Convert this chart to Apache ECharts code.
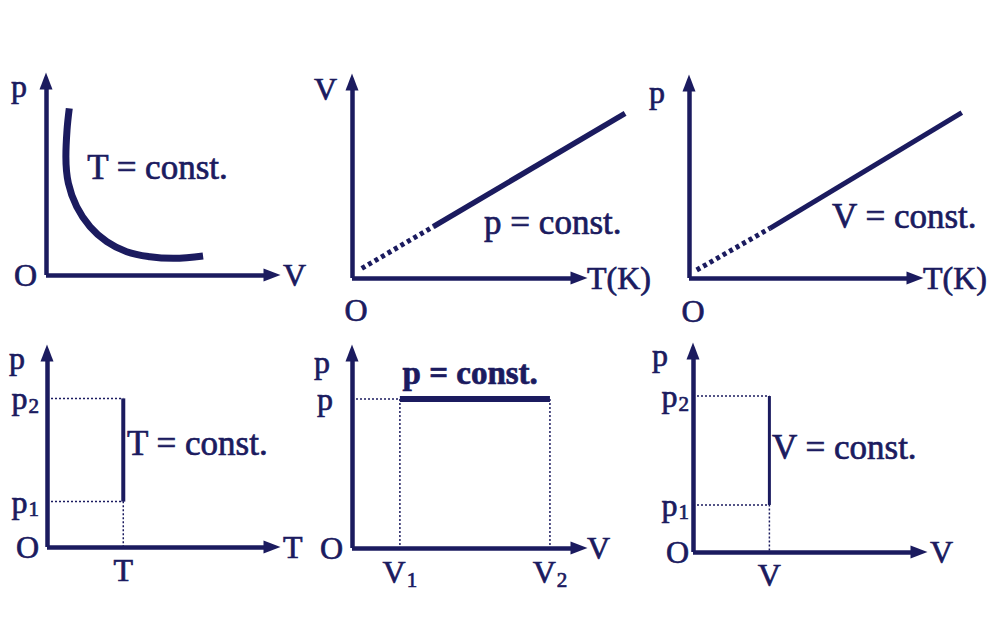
<!DOCTYPE html>
<html><head><meta charset="utf-8">
<script src="https://cdn.jsdelivr.net/npm/echarts@6/dist/echarts.min.js"></script>
<style>html,body{margin:0;padding:0;background:#fff}#c{width:1000px;height:619px}</style>
</head><body><div id="c"></div>
<script>
// ================= DATA (arbitrary units, 0..100 on every axis) =================
// Panel 1 – isothermal process, p–V diagram (hyperbola)
const isoV = [10.3, 9.3, 8.8, 9.9, 13.6, 19.5, 26.9, 35.7, 46.0, 56.3, 69.5];
const isoP = [85.9, 74.7, 61.0, 47.3, 35.2, 24.9, 17.2, 12.0, 9.4, 8.6, 9.8];
// Panel 2 – isobaric process, V–T diagram (dotted extrapolation + solid part)
const isobarDotT = [4.3, 35.8];
const isobarDotV = [4.9, 26.2];
const isobarT = [35.8, 120.3];
const isobarV = [26.2, 84.0];
// Panel 3 – isochoric process, p–T diagram
const isochorDotT = [3.4, 35.8];
const isochorDotP = [4.1, 25.5];
const isochorT = [35.8, 120.7];
const isochorP = [25.5, 84.8];
// Panel 4 – isothermal process, p–T diagram
const p4T = 33.9;
const p4P = [23.4, 76.6];          // p1, p2
// Panel 5 – isobaric process, p–V diagram
const p5P = 76.4;
const p5V = [21.1, 87.2];          // V1, V2
// Panel 6 – isochoric process, p–V diagram
const p6V = 33.8;
const p6P = [23.4, 77.6];          // p1, p2

// ================= TEXT =================
const xNames = ['V', 'T(K)', 'T(K)', 'T', 'V', 'V'];
const yNames = ['p', 'V', 'p', 'p', 'p', 'p'];
const curveLabels = ['T = const.', 'p = const.', 'V = const.', 'T = const.', 'p = const.', 'V = const.'];
const xTickValues = [[], [0], [0], [p4T], p5V, [p6V]];
const xTickLabels = [[], ['O'], ['O'], ['T'], ['V₁', 'V₂'], ['V']];
const yTickValues = [[0], [], [], [0, p4P[0], p4P[1]], [0, p5P], [0, p6P[0], p6P[1]]];
const yTickLabels = [['O'], [], [], ['O', 'p₁', 'p₂'], ['O', 'p'], ['O', 'p₁', 'p₂']];

// ================= LAYOUT / STYLE =================
const NAVY = '#1b1b5f';
const FONT = 'Liberation Serif';
const TB = 0.7; // text thickening stroke
const grids = [
  {left: 46, top: 81, width: 226, height: 194},
  {left: 352, top: 82, width: 227, height: 196},
  {left: 689, top: 83, width: 226, height: 195},
  {left: 47, top: 353, width: 225, height: 194},
  {left: 352, top: 353, width: 227, height: 195},
  {left: 693, top: 351, width: 226, height: 201}
];
// wider, hidden companion grids (same scale) for lines that run past the arrow tip
const overMax = 130;
const overGrids = [1, 2];
const yNameGap = [-5, -7, -9, -5, -9, -4];
const yNamePad = [19, 15, 24, 22, 22, 25];
const xNameGap = [11, 8, 8, 11, 8, 11];
const xNameShift = [3, 0, 1, 2, 5, 5];
const xLabelMargin = [8, 16, 17, 7, 8, 7];
const yLabelMargin = [9, 9, 9, 8, 9, 4];
const curveLabelAt = [[18.2, 55.2], [58.2, 28.1], [63.3, 31.3], [35.6, 53.6], [22.3, 89.7], [35.0, 52.2]];

const baseTxt = {fontFamily: FONT, color: NAVY, textBorderColor: NAVY, textBorderWidth: TB};
const rich = {
  m: Object.assign({fontSize: 32, lineHeight: 32, verticalAlign: 'top'}, baseTxt),
  s: Object.assign({fontSize: 21, lineHeight: 21, verticalAlign: 'top', padding: [13, 0, 0, 1]}, baseTxt),
  pr: Object.assign({fontSize: 32, lineHeight: 32, verticalAlign: 'top', padding: [0, 10, 0, 0]}, baseTxt),
  ol: Object.assign({fontSize: 32, lineHeight: 32, verticalAlign: 'top', padding: [0, 0, 0, 8]}, baseTxt)
};
function richText(t, mainStyle) {
  let out = '';
  for (const ch of t) {
    const c = ch.charCodeAt(0);
    if (c >= 0x2080 && c <= 0x2089) out += '{s|' + String.fromCharCode(c - 0x2080 + 48) + '}';
    else out += '{' + (mainStyle || 'm') + '|' + ch + '}';
  }
  return out;
}
function labelFormatter(values, labels, i, isY) {
  return function (v) {
    for (let k = 0; k < values.length; k++) {
      if (Math.abs(values[k] - v) < 1e-6) {
        let st = 'm';
        if (isY && i === 4 && labels[k] === 'p') st = 'pr';
        if (!isY && labels[k] === 'O') st = 'ol';
        return richText(labels[k], st);
      }
    }
    return '';
  };
}
const arrowLine = {
  show: true, onZero: false,
  symbol: ['none', 'triangle'], symbolSize: [13, 17],
  lineStyle: {color: NAVY, width: 4.5, cap: 'butt'}
};

const gridList = grids.map(g => Object.assign({containLabel: false, outerBoundsMode: 'none'}, g));
const xAxis = [], yAxis = [], series = [];
for (let i = 0; i < 6; i++) {
  xAxis.push({
    type: 'value', gridIndex: i, min: 0, max: 100,
    axisLine: arrowLine, axisTick: {show: false}, splitLine: {show: false},
    name: xNames[i], nameLocation: 'end', nameGap: xNameGap[i], nameMoveOverlap: false,
    nameTextStyle: Object.assign({fontSize: 32, verticalAlign: 'middle', align: 'left',
      padding: [0, 0, xNameShift[i] * 2, 0]}, baseTxt),
    axisLabel: {
      show: xTickValues[i].length > 0, customValues: xTickValues[i], margin: xLabelMargin[i],
      showMinLabel: true, showMaxLabel: true, hideOverlap: false,
      formatter: labelFormatter(xTickValues[i], xTickLabels[i], i, false), rich: rich
    }
  });
  yAxis.push({
    type: 'value', gridIndex: i, min: 0, max: 100,
    axisLine: arrowLine, axisTick: {show: false}, splitLine: {show: false},
    name: yNames[i], nameLocation: 'end', nameGap: yNameGap[i], nameMoveOverlap: false,
    nameTextStyle: Object.assign({fontSize: 32, align: 'right', verticalAlign: 'middle',
      padding: [0, yNamePad[i], 0, 0]}, baseTxt),
    axisLabel: {
      show: yTickValues[i].length > 0, customValues: yTickValues[i], margin: yLabelMargin[i],
      showMinLabel: true, showMaxLabel: true, hideOverlap: false,
      formatter: labelFormatter(yTickValues[i], yTickLabels[i], i, true), rich: rich
    }
  });
  series.push({
    type: 'scatter', xAxisIndex: i, yAxisIndex: i, symbolSize: 0, silent: true, z: 5,
    itemStyle: {opacity: 1},
    data: [curveLabelAt[i]],
    label: Object.assign({show: true, position: 'right', distance: 0, formatter: curveLabels[i], opacity: 1,
      fontSize: i === 4 ? 33 : 35, fontWeight: i === 4 ? 'bold' : 'normal'}, baseTxt)
  });
}
// hidden companion grids
const overIndex = {};
overGrids.forEach(function (pi) {
  const g = grids[pi];
  const idx = gridList.length;
  overIndex[pi] = idx;
  gridList.push({left: g.left, top: g.top, width: g.width * overMax / 100, height: g.height,
    containLabel: false, outerBoundsMode: 'none', show: false});
  xAxis.push({type: 'value', gridIndex: idx, min: 0, max: overMax, show: false});
  yAxis.push({type: 'value', gridIndex: idx, min: 0, max: 100, show: false});
});

const zip = (a, b) => a.map((v, k) => [v, b[k]]);
function line(i, data, width, dotted, thin, axisIdx) {
  const ai = axisIdx == null ? i : axisIdx;
  series.push({
    type: 'line', xAxisIndex: ai, yAxisIndex: ai, data: data, symbol: 'none', clip: false, silent: true,
    smooth: i === 0 ? 0.4 : false,
    lineStyle: {color: NAVY, width: width, type: dotted ? (thin ? [2, 2] : [4, 3.5]) : 'solid', cap: 'butt'}
  });
}
// Panel 1
line(0, zip(isoV, isoP), 7);
// Panel 2
line(1, zip(isobarDotT, isobarDotV), 5, true);
line(1, zip(isobarT, isobarV), 5.5, false, false, overIndex[1]);
// Panel 3
line(2, zip(isochorDotT, isochorDotP), 5, true);
line(2, zip(isochorT, isochorP), 5, false, false, overIndex[2]);
// Panel 4
line(3, [[0, p4P[1]], [p4T, p4P[1]]], 1.5, true, true);
line(3, [[0, p4P[0]], [p4T, p4P[0]], [p4T, 0]], 1.5, true, true);
line(3, [[p4T, p4P[0]], [p4T, p4P[1]]], 4);
// Panel 5
line(4, [[0, p5P], [p5V[0], p5P], [p5V[0], 0]], 1.5, true, true);
line(4, [[p5V[1], p5P], [p5V[1], 0]], 1.5, true, true);
line(4, [[p5V[0], p5P], [p5V[1], p5P]], 6);
// Panel 6
line(5, [[0, p6P[1]], [p6V, p6P[1]]], 1.5, true, true);
line(5, [[0, p6P[0]], [p6V, p6P[0]], [p6V, 0]], 1.5, true, true);
line(5, [[p6V, p6P[0]], [p6V, p6P[1]]], 3);

const chart = echarts.init(document.getElementById('c'), null, {renderer: 'svg'});
chart.setOption({
  animation: false,
  backgroundColor: '#ffffff',
  grid: gridList,
  xAxis: xAxis, yAxis: yAxis, series: series
});
</script></body></html>
